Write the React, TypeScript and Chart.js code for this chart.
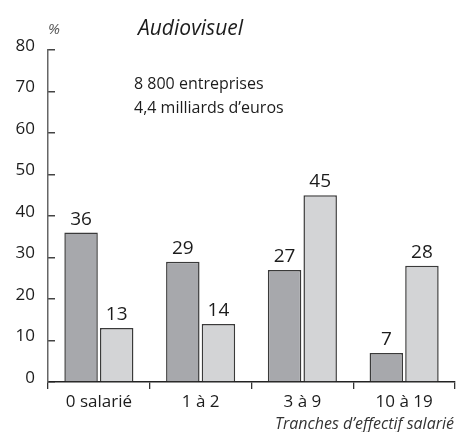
import React, { useEffect, useRef } from "react";
import { Chart, registerables } from "chart.js";

Chart.register(...registerables);

const categories = ["0 salarié", "1 à 2", "3 à 9", "10 à 19"];
const seriesDark = [36, 29, 27, 7];
const seriesLight = [13, 14, 45, 28];
const yMin = 0;
const yMax = 80;
const yStep = 10;
const titleText = "Audiovisuel";
const unitText = "%";
const noteLines = ["8 800 entreprises", "4,4 milliards d’euros"];
const xTitleText = "Tranches d’effectif salarié";

const FONT = "'Open Sans', Lato, sans-serif";
const TEXT = "#1c1c1c";

const annotations = {
  id: "annotations",
  afterDraw(chart: any) {
    const { ctx } = chart;
    ctx.save();
    // data labels
    ctx.fillStyle = TEXT;
    ctx.font = `19px ${FONT}`;
    ctx.textAlign = "center";
    ctx.textBaseline = "alphabetic";
    chart.data.datasets.forEach((ds: any, di: number) => {
      const meta = chart.getDatasetMeta(di);
      meta.data.forEach((el: any, i: number) => {
        ctx.fillText(String(ds.data[i]), el.x, el.y - 8);
      });
    });
    // title
    ctx.textAlign = "left";
    ctx.font = `italic 21px ${FONT}`;
    ctx.fillText(titleText, 138, 35);
    ctx.font = `italic 15px ${FONT}`;
    ctx.fillStyle = "#555";
    ctx.fillText(unitText, 48, 34);
    ctx.fillStyle = TEXT;
    ctx.font = `16px ${FONT}`;
    ctx.fillText(noteLines[0], 134, 89);
    ctx.fillText(noteLines[1], 134, 113);
    ctx.textAlign = "right";
    ctx.font = `italic 16px ${FONT}`;
    ctx.fillStyle = "#333";
    ctx.fillText(xTitleText, 454, 429);
    ctx.restore();
  },
};

export default function App() {
  const ref = useRef<HTMLCanvasElement | null>(null);
  useEffect(() => {
    if (!ref.current) return;
    const chart = new Chart(ref.current, {
      type: "bar",
      data: {
        labels: categories,
        datasets: [
          {
            data: seriesDark,
            backgroundColor: "#a7a8ac",
            borderColor: "#3a3a3a",
            borderWidth: 1.5,
            categoryPercentage: 0.7,
            barPercentage: 0.94,
          },
          {
            data: seriesLight,
            backgroundColor: "#d3d4d6",
            borderColor: "#3a3a3a",
            borderWidth: 1.5,
            categoryPercentage: 0.7,
            barPercentage: 0.94,
          },
        ],
      },
      options: {
        animation: false,
        responsive: false,
        layout: { padding: { top: 50, right: 1, left: 0, bottom: 0 } },
        plugins: { legend: { display: false }, tooltip: { enabled: false }, title: { display: false } },
        scales: {
          x: {
            offset: true,
            grid: {
              display: true,
              offset: true,
              drawOnChartArea: false,
              drawTicks: true,
              tickLength: 7,
              color: "#333",
              lineWidth: 1.3,
            },
            border: { display: true, color: "#222", width: 1.5 },
            ticks: { color: TEXT, font: { family: FONT, size: 17 }, padding: 3, maxRotation: 0 },
            afterFit: (s: any) => {
              s.height = 50;
            },
          },
          y: {
            min: yMin,
            max: yMax,
            grid: {
              display: true,
              drawOnChartArea: false,
              drawTicks: true,
              tickLength: -7,
              color: "#444",
              lineWidth: 1.5,
            },
            border: { display: true, color: "#666", width: 1.5 },
            ticks: {
              stepSize: yStep,
              color: TEXT,
              font: { family: FONT, size: 17 },
              padding: 20,
              labelOffset: -4,
            },
            afterFit: (s: any) => {
              s.width = 48;
            },
          },
        },
      },
      plugins: [annotations],
    });
    return () => chart.destroy();
  }, []);
  return (
    <div style={{ position: "absolute", left: 0, top: 0, width: 456, height: 432, background: "#fff" }}>
      <canvas ref={ref} width={456} height={432} />
    </div>
  );
}
